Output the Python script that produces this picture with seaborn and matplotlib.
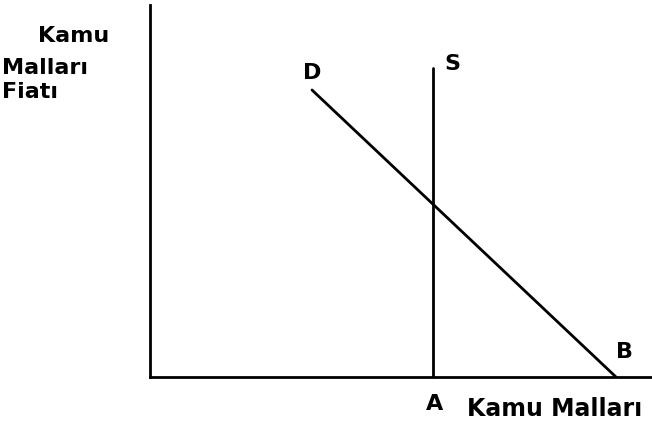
import matplotlib
matplotlib.use("Agg")
import matplotlib.pyplot as plt
import seaborn as sns

sns.set_theme(style="white")
plt.rcParams['font.family'] = ['DejaVu Sans']

# Demand curve D (quantity, price) in chart units
demand_q = [162, 466]
demand_p = [287, 0]
# Supply curve S: vertical at fixed quantity
supply_q = [283, 283]
supply_p = [0, 309]

fig = plt.figure(figsize=(6.52, 4.29), dpi=100)
ax = fig.add_axes([150/652, 52/429, 502/652, 372/429])

sns.lineplot(x=demand_q, y=demand_p, ax=ax, color="black", lw=2.0, sort=False, estimator=None)
sns.lineplot(x=supply_q, y=supply_p, ax=ax, color="black", lw=2.0, sort=False, estimator=None)

ax.set_xlim(0, 502)
ax.set_ylim(0, 372)
ax.set_xticks([])
ax.set_yticks([])
for s in ["top", "right"]:
    ax.spines[s].set_visible(False)
for s in ["left", "bottom"]:
    ax.spines[s].set_color("black")
    ax.spines[s].set_linewidth(2.0)

kw = dict(fontsize=16, fontweight="bold", color="black", clip_on=False)
ax.text(-112, 341, "Kamu", ha="left", va="center", **kw)
ax.text(-148, 309, "Malları", ha="left", va="center", **kw)
ax.text(-148, 285, "Fiatı", ha="left", va="center", **kw)
ax.text(162, 304, "D", ha="center", va="center", **kw)
ax.text(302, 313, "S", ha="center", va="center", **kw)
ax.text(474, 25, "B", ha="center", va="center", **kw)
ax.text(285, -27, "A", ha="center", va="center", **kw)
kw2 = dict(kw, fontsize=17)
ax.text(317, -32, "Kamu Malları", ha="left", va="center", **kw2)

fig.savefig("out.png", dpi=100)
